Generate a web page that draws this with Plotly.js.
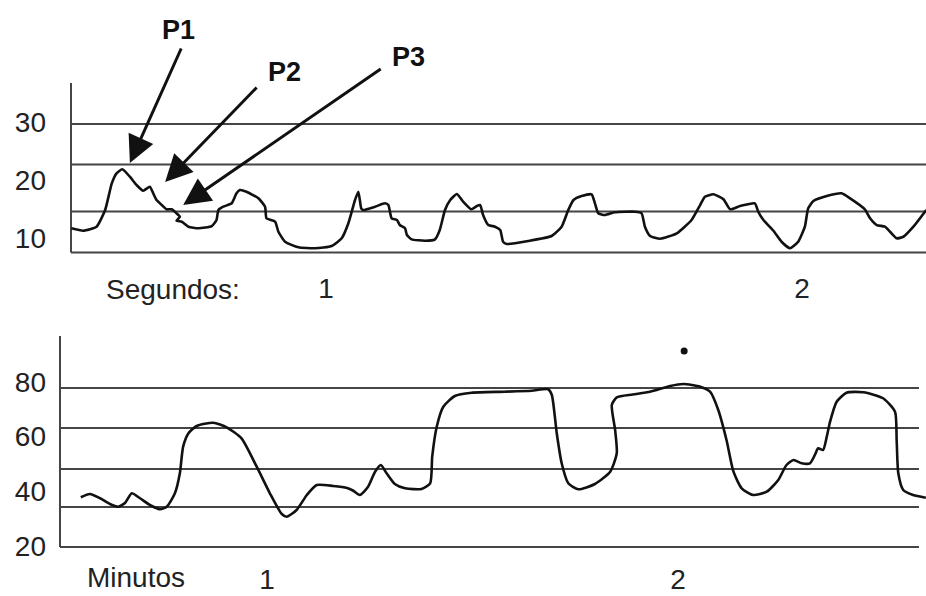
<!DOCTYPE html>
<html>
<head>
<meta charset="utf-8">
<script src="https://cdn.plot.ly/plotly-3.0.1.min.js"></script>
<style>html,body{margin:0;padding:0;background:#fff;}#chart{width:926px;height:596px;}</style>
</head>
<body>
<div id="chart"></div>
<script>
// ---- Top trace: time in seconds, value ----
const secondsX = [0.465,0.490,0.518,0.536,0.550,0.560,0.572,0.588,0.602,0.616,0.630,0.637,0.644,0.655,0.665,0.676,0.686,0.693,0.686,0.697,0.711,0.732,0.760,0.770,0.774,0.784,0.802,0.812,0.819,0.833,0.858,0.872,0.875,0.893,0.900,0.914,0.942,0.977,1.012,1.033,1.047,1.061,1.068,1.074,1.078,1.103,1.124,1.131,1.138,1.149,1.155,1.166,1.170,1.180,1.208,1.229,1.239,1.250,1.261,1.275,1.288,1.305,1.317,1.324,1.330,1.341,1.355,1.366,1.372,1.380,1.425,1.474,1.495,1.509,1.520,1.537,1.558,1.565,1.572,1.586,1.607,1.649,1.663,1.670,1.681,1.702,1.737,1.768,1.786,1.796,1.814,1.835,1.849,1.870,1.901,1.908,1.919,1.940,1.957,1.975,1.992,2.006,2.013,2.024,2.052,2.083,2.101,2.132,2.143,2.157,2.174,2.185,2.199,2.213,2.234,2.261];
const secondsY = [11.68,11.26,11.96,14.85,19.47,21.20,21.90,20.61,19.18,18.19,18.88,17.74,16.58,15.71,14.97,14.97,14.28,13.69,13.00,12.82,11.96,11.68,12.08,13.12,14.85,15.42,16.01,17.74,18.31,18.02,16.87,15.42,13.41,12.82,11.09,9.36,8.39,8.22,8.61,9.95,12.55,16.58,18.02,15.14,14.85,15.42,16.01,15.71,13.41,13.12,12.25,11.68,10.52,9.77,9.53,9.77,11.39,14.85,16.58,17.62,16.29,14.97,15.54,15.71,13.98,12.25,11.96,11.39,9.36,8.96,9.48,10.35,11.96,14.85,16.58,17.27,17.57,16.01,14.28,13.98,14.45,14.55,14.28,11.96,10.35,9.88,10.81,13.12,15.71,17.15,17.57,16.70,14.97,15.54,16.01,14.55,13.12,11.26,9.36,8.22,9.36,11.96,15.14,16.41,17.27,17.74,16.87,14.97,13.41,12.25,11.96,11.09,9.95,10.22,11.96,14.85];
const secondsTicks = [1, 2];
const secondsLabels = ['1', '2'];
const topYTicks = [10, 20, 30];
const topLevels = [29.74, 22.73, 14.59];
const topBase = 7.49;

// ---- Bottom trace: time in minutes, value ----
const minutesX = [0.547,0.569,0.594,0.618,0.638,0.655,0.671,0.691,0.715,0.740,0.756,0.776,0.788,0.796,0.809,0.829,0.869,0.902,0.938,0.975,1.007,1.036,1.048,1.072,1.097,1.121,1.161,1.195,1.209,1.226,1.246,1.263,1.277,1.291,1.311,1.336,1.376,1.397,1.402,1.413,1.429,1.457,1.498,1.579,1.644,1.684,1.693,1.705,1.717,1.733,1.757,1.798,1.835,1.851,1.847,1.839,1.851,1.890,1.932,1.981,2.013,2.054,2.078,2.098,2.118,2.135,2.155,2.183,2.216,2.244,2.264,2.281,2.301,2.321,2.333,2.341,2.353,2.362,2.370,2.386,2.410,2.451,2.499,2.528,2.532,2.536,2.548,2.572,2.603];
const minutesY = [37.81,39.02,37.45,35.36,34.37,35.84,39.28,37.45,34.99,33.42,34.37,39.28,46.59,56.33,61.23,63.90,65.11,63.42,59.40,49.01,39.28,31.70,30.71,33.16,38.65,42.31,41.95,41.21,40.30,38.65,41.69,47.18,49.63,46.59,42.68,41.10,40.85,42.93,52.67,63.64,70.96,74.88,76.08,76.45,76.82,77.33,75.24,61.23,50.25,42.93,40.74,42.68,47.18,53.91,62.44,71.58,74.40,75.43,76.45,78.54,79.27,78.28,76.45,69.75,58.78,47.18,41.10,38.65,39.86,44.14,49.63,51.46,50.25,50.25,53.29,55.74,55.12,59.99,65.47,72.79,76.08,76.23,74.04,69.13,58.78,46.59,40.48,38.65,37.67];
const minutesTicks = [1, 2];
const minutesLabels = ['1', '2'];
const bottomYTicks = [20, 40, 60, 80];
const bottomLevels = [77.8, 63.17, 48.17, 34.26];
const bottomBase = 19.63;
const dotX = [2.015];
const dotY = [91.34];

const LINE = '#454545';
const FONT = 'Liberation Sans, Arial, Helvetica, sans-serif';

const traces = [
  {x: secondsX, y: secondsY, xaxis: 'x', yaxis: 'y', mode: 'lines', line: {color: '#111', width: 2.6, shape: 'spline', smoothing: 0.5}, hoverinfo: 'skip'},
  {x: minutesX, y: minutesY, xaxis: 'x2', yaxis: 'y2', mode: 'lines', line: {color: '#111', width: 2.6, shape: 'spline', smoothing: 0.6}, hoverinfo: 'skip'},
  {x: dotX, y: dotY, xaxis: 'x2', yaxis: 'y2', mode: 'markers', marker: {color: '#111', size: 7}, hoverinfo: 'skip'}
];

const shapes = [];
topLevels.concat([topBase]).forEach(v => shapes.push({type: 'line', xref: 'x domain', yref: 'y', x0: 0, x1: 1, y0: v, y1: v, line: {color: LINE, width: 2}, layer: 'below'}));
shapes.push({type: 'line', xref: 'x domain', yref: 'y', x0: 0, x1: 0, y0: topBase, y1: 36.84, line: {color: LINE, width: 2}, layer: 'below'});
bottomLevels.concat([bottomBase]).forEach(v => shapes.push({type: 'line', xref: 'x2 domain', yref: 'y2', x0: 0, x1: 0.9919, y0: v, y1: v, line: {color: LINE, width: 2}, layer: 'below'}));
shapes.push({type: 'line', xref: 'x2 domain', yref: 'y2', x0: 0, x1: 0, y0: bottomBase, y1: 96.83, line: {color: LINE, width: 2}, layer: 'below'});

const txtFont = {family: FONT, size: 28, color: '#222'};
const boldFont = {family: FONT, size: 27, color: '#111', weight: 'bold'};
const arrowStyle = {showarrow: true, arrowhead: 2, arrowsize: 1.8, arrowwidth: 3, arrowcolor: '#111', standoff: 0, text: ''};

const annotations = [
  {xref: 'paper', yref: 'paper', x: 173/926, y: 1 - 289/596, text: 'Segundos:', showarrow: false, font: txtFont, xanchor: 'center', yanchor: 'middle'},
  {xref: 'paper', yref: 'paper', x: 136/926, y: 0.003, text: 'Minutos', showarrow: false, font: txtFont, xanchor: 'center', yanchor: 'bottom', borderpad: 0},
  {xref: 'paper', yref: 'paper', x: 178.5/926, y: 1 - 30/596, text: '<b>P1</b>', showarrow: false, font: boldFont, xanchor: 'center', yanchor: 'middle'},
  {xref: 'paper', yref: 'paper', x: 284/926, y: 1 - 72/596, text: '<b>P2</b>', showarrow: false, font: boldFont, xanchor: 'center', yanchor: 'middle'},
  {xref: 'paper', yref: 'paper', x: 408.5/926, y: 1 - 57/596, text: '<b>P3</b>', showarrow: false, font: boldFont, xanchor: 'center', yanchor: 'middle'},
  Object.assign({xref: 'x', yref: 'y', x: 0.588, y: 22.99, ax: 52, ay: -116}, arrowStyle),
  Object.assign({xref: 'x', yref: 'y', x: 0.662, y: 19.70, ax: 93, ay: -96}, arrowStyle),
  Object.assign({xref: 'x', yref: 'y', x: 0.700, y: 15.71, ax: 199, ay: -137}, arrowStyle)
];

const axBase = {showgrid: false, zeroline: false, showline: false, ticks: '', fixedrange: true, tickfont: txtFont};

const layout = {
  width: 926, height: 596,
  margin: {l: 0, r: 0, t: 0, b: 0},
  paper_bgcolor: '#fff', plot_bgcolor: 'rgba(0,0,0,0)',
  showlegend: false,
  font: {family: FONT, size: 28, color: '#222'},
  xaxis: Object.assign({}, axBase, {domain: [71/926, 1], range: [0.4643, 2.2605], anchor: 'y', tickmode: 'array', tickvals: secondsTicks, ticktext: secondsLabels, ticklabelstandoff: 14}),
  yaxis: Object.assign({}, axBase, {domain: [1 - 255/596, 1 - 83/596], range: [7.06, 36.84], anchor: 'x', tickmode: 'array', tickvals: topYTicks, ticklabelstandoff: 24}),
  xaxis2: Object.assign({}, axBase, {domain: [60/926, 1], range: [0.4964, 2.6034], anchor: 'y2', tickmode: 'array', tickvals: minutesTicks, ticktext: minutesLabels, ticklabelstandoff: 11}),
  yaxis2: Object.assign({}, axBase, {domain: [1 - 549/596, 1 - 336/596], range: [18.89, 96.83], anchor: 'x2', tickmode: 'array', tickvals: bottomYTicks, ticklabelstandoff: 13}),
  shapes: shapes,
  annotations: annotations
};

Plotly.newPlot('chart', traces, layout, {displayModeBar: false, staticPlot: true});
</script>
</body>
</html>
